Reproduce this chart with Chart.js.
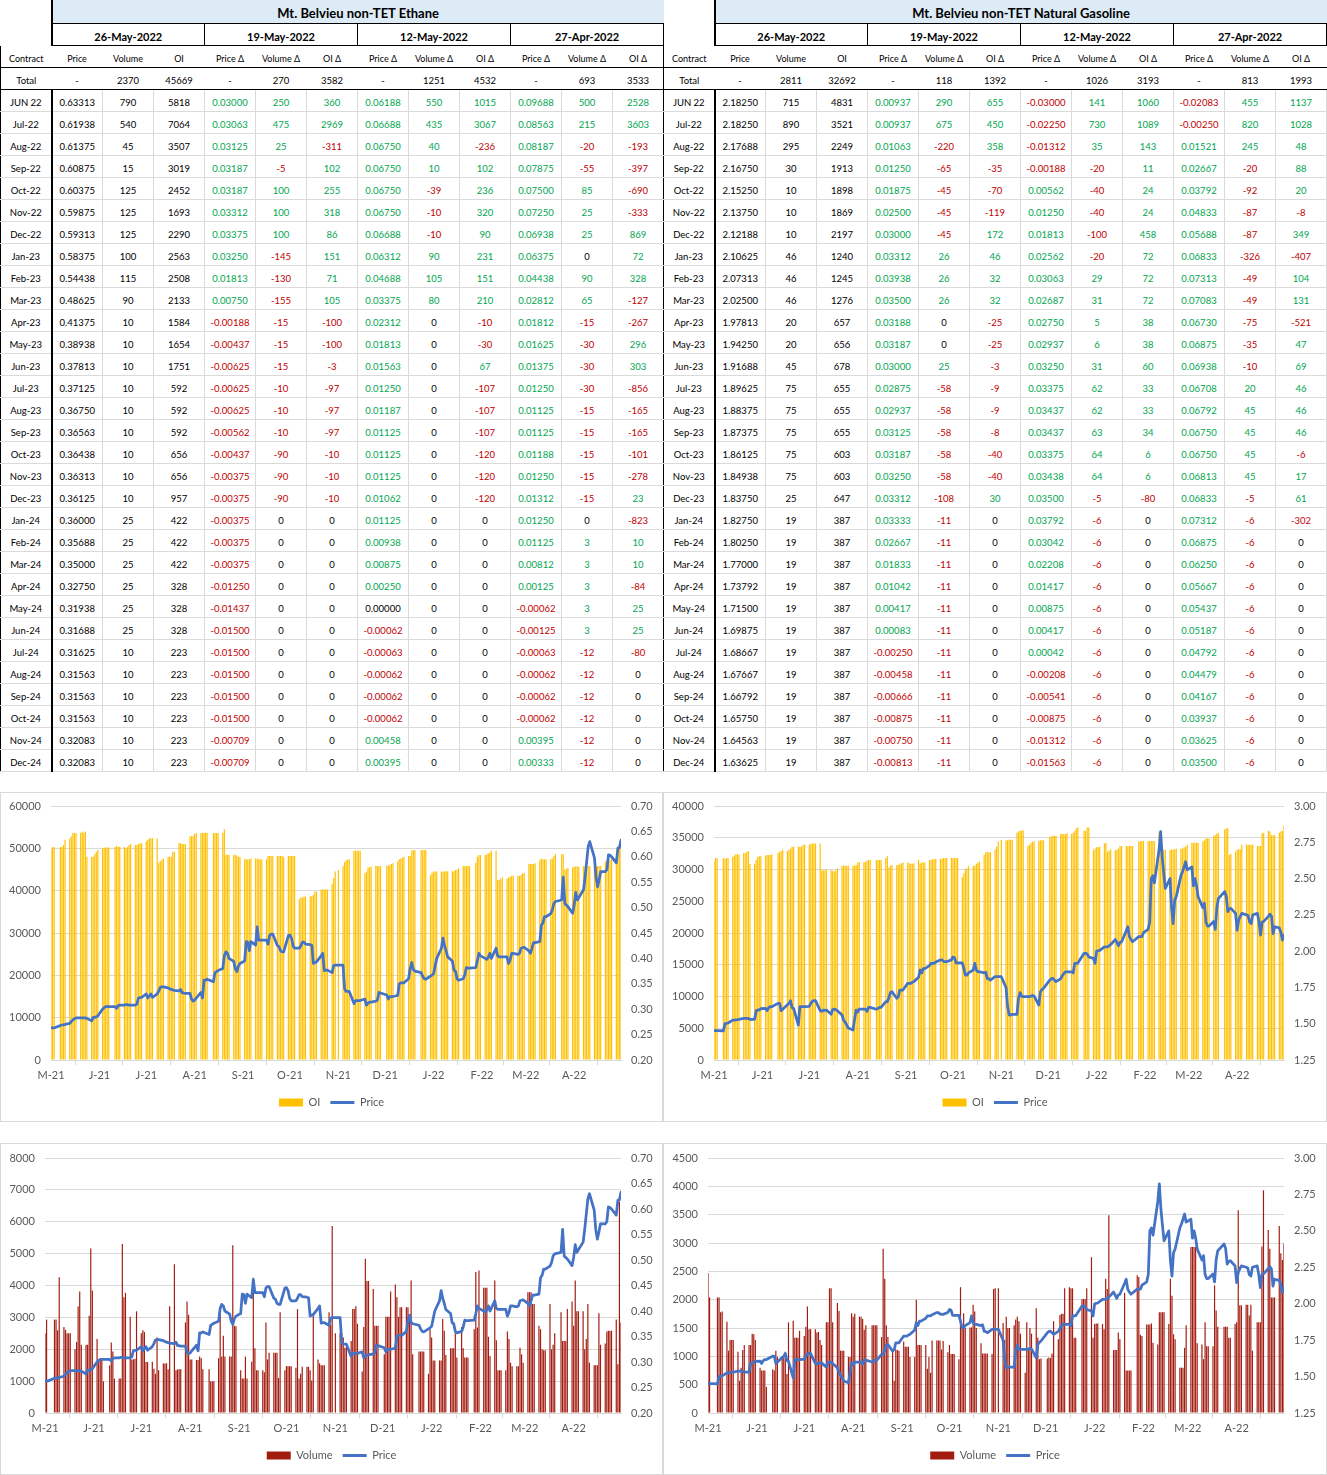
<!DOCTYPE html>
<html>
<head>
<meta charset="utf-8">
<script src="https://cdn.jsdelivr.net/npm/chart.js@4.4.1/dist/chart.umd.min.js"></script>
<style>
  body { margin: 0; background: #fff; font-family: Lato, "Noto Sans", sans-serif; }
  table.t { position: absolute; top: 0; border-collapse: collapse; table-layout: fixed; font-size: 9.5px; color: #000; }
  table.t td { height: 19px; line-height: 12px; padding: 0 0 2px 0; text-align: center; vertical-align: bottom; white-space: nowrap; overflow: hidden;
               border-right: 1px solid #dadada; border-bottom: 1px solid #dadada; }
  table.t tr.top td { height: 21px; }
  table.t td.blank { border: none; border-right: 2px solid #000; }
  table.t td.title { background: #ddebf7; font-weight: bold; font-size: 13px; line-height: 15px; border-bottom: 1px solid #000; border-right: none; }
  table.t td.date { font-weight: bold; font-size: 11px; line-height: 13px; border-bottom: 1px solid #000; border-right: 1px solid #000; }
  table.t tr.head td { font-size: 9px; border-right: none; border-bottom: 1px solid #000; }
  table.t tr.total td { border-right: none; border-bottom: 1px solid #000; }
  table.t td.con { border-right: 2px solid #000; border-left: 1px solid #000; }
  table.t td.pos { color: #00a650; }
  table.t td.neg { color: #c00000; }
  .box { position: absolute; border: 1px solid #d9d9d9; box-sizing: border-box; background: #fff; }
  .inner { position: absolute; left: 0; top: 0; right: 0; bottom: 0; }
</style>
</head>
<body>
<table id="t1" class="t" style="left:0;width:663px"></table>
<table id="t2" class="t" style="left:663px;width:664px"></table>

<div class="box" style="left:0;top:792px;width:663px;height:330px"><div class="inner"><canvas id="c1"></canvas></div></div>
<div class="box" style="left:663px;top:792px;width:664px;height:330px"><div class="inner"><canvas id="c2"></canvas></div></div>
<div class="box" style="left:0;top:1143px;width:663px;height:332px"><div class="inner"><canvas id="c3"></canvas></div></div>
<div class="box" style="left:663px;top:1143px;width:664px;height:332px"><div class="inner"><canvas id="c4"></canvas></div></div>

<script>
// ---------- table data ----------
const periods = ['26-May-2022', '19-May-2022', '12-May-2022', '27-Apr-2022'];
const subHeads = ['Price', 'Volume', 'OI', 'Price Δ', 'Volume Δ', 'OI Δ', 'Price Δ', 'Volume Δ', 'OI Δ', 'Price Δ', 'Volume Δ', 'OI Δ'];
const contracts = ['JUN 22', 'Jul-22', 'Aug-22', 'Sep-22', 'Oct-22', 'Nov-22', 'Dec-22', 'Jan-23', 'Feb-23', 'Mar-23', 'Apr-23',
  'May-23', 'Jun-23', 'Jul-23', 'Aug-23', 'Sep-23', 'Oct-23', 'Nov-23', 'Dec-23', 'Jan-24', 'Feb-24', 'Mar-24', 'Apr-24',
  'May-24', 'Jun-24', 'Jul-24', 'Aug-24', 'Sep-24', 'Oct-24', 'Nov-24', 'Dec-24'];

// Ethane
const ethTotals = ['-', 2370, 45669, '-', 270, 3582, '-', 1251, 4532, '-', 693, 3533];
const ethPrice = [0.63313, 0.61938, 0.61375, 0.60875, 0.60375, 0.59875, 0.59313, 0.58375, 0.54438, 0.48625, 0.41375,
  0.38938, 0.37813, 0.37125, 0.36750, 0.36563, 0.36438, 0.36313, 0.36125, 0.36000, 0.35688, 0.35000, 0.32750,
  0.31938, 0.31688, 0.31625, 0.31563, 0.31563, 0.31563, 0.32083, 0.32083];
const ethVolume = [790, 540, 45, 15, 125, 125, 125, 100, 115, 90, 10, 10, 10, 10, 10, 10, 10, 10, 10, 25, 25, 25, 25, 25, 25,
  10, 10, 10, 10, 10, 10];
const ethOI = [5818, 7064, 3507, 3019, 2452, 1693, 2290, 2563, 2508, 2133, 1584, 1654, 1751, 592, 592, 592, 656, 656, 957,
  422, 422, 422, 328, 328, 328, 223, 223, 223, 223, 223, 223];
const ethPriceD1 = [0.03000, 0.03063, 0.03125, 0.03187, 0.03187, 0.03312, 0.03375, 0.03250, 0.01813, 0.00750, -0.00188,
  -0.00437, -0.00625, -0.00625, -0.00625, -0.00562, -0.00437, -0.00375, -0.00375, -0.00375, -0.00375, -0.00375, -0.01250,
  -0.01437, -0.01500, -0.01500, -0.01500, -0.01500, -0.01500, -0.00709, -0.00709];
const ethVolD1 = [250, 475, 25, -5, 100, 100, 100, -145, -130, -155, -15, -15, -15, -10, -10, -10, -90, -90, -90,
  0, 0, 0, 0, 0, 0, 0, 0, 0, 0, 0, 0];
const ethOID1 = [360, 2969, -311, 102, 255, 318, 86, 151, 71, 105, -100, -100, -3, -97, -97, -97, -10, -10, -10,
  0, 0, 0, 0, 0, 0, 0, 0, 0, 0, 0, 0];
const ethPriceD2 = [0.06188, 0.06688, 0.06750, 0.06750, 0.06750, 0.06750, 0.06688, 0.06312, 0.04688, 0.03375, 0.02312,
  0.01813, 0.01563, 0.01250, 0.01187, 0.01125, 0.01125, 0.01125, 0.01062, 0.01125, 0.00938, 0.00875, 0.00250,
  0.00000, -0.00062, -0.00063, -0.00062, -0.00062, -0.00062, 0.00458, 0.00395];
const ethVolD2 = [550, 435, 40, 10, -39, -10, -10, 90, 105, 80, 0, 0, 0, 0, 0, 0, 0, 0, 0,
  0, 0, 0, 0, 0, 0, 0, 0, 0, 0, 0, 0];
const ethOID2 = [1015, 3067, -236, 102, 236, 320, 90, 231, 151, 210, -10, -30, 67, -107, -107, -107, -120, -120, -120,
  0, 0, 0, 0, 0, 0, 0, 0, 0, 0, 0, 0];
const ethPriceD3 = [0.09688, 0.08563, 0.08187, 0.07875, 0.07500, 0.07250, 0.06938, 0.06375, 0.04438, 0.02812, 0.01812,
  0.01625, 0.01375, 0.01250, 0.01125, 0.01125, 0.01188, 0.01250, 0.01312, 0.01250, 0.01125, 0.00812, 0.00125,
  -0.00062, -0.00125, -0.00063, -0.00062, -0.00062, -0.00062, 0.00395, 0.00333];
const ethVolD3 = [500, 215, -20, -55, 85, 25, 25, 0, 90, 65, -15, -30, -30, -30, -15, -15, -15, -15, -15,
  0, 3, 3, 3, 3, 3, -12, -12, -12, -12, -12, -12];
const ethOID3 = [2528, 3603, -193, -397, -690, -333, 869, 72, 328, -127, -267, 296, 303, -856, -165, -165, -101, -278, 23,
  -823, 10, 10, -84, 25, 25, -80, 0, 0, 0, 0, 0];

// Natural Gasoline
const ngTotals = ['-', 2811, 32692, '-', 118, 1392, '-', 1026, 3193, '-', 813, 1993];
const ngPrice = [2.18250, 2.18250, 2.17688, 2.16750, 2.15250, 2.13750, 2.12188, 2.10625, 2.07313, 2.02500, 1.97813,
  1.94250, 1.91688, 1.89625, 1.88375, 1.87375, 1.86125, 1.84938, 1.83750, 1.82750, 1.80250, 1.77000, 1.73792,
  1.71500, 1.69875, 1.68667, 1.67667, 1.66792, 1.65750, 1.64563, 1.63625];
const ngVolume = [715, 890, 295, 30, 10, 10, 10, 46, 46, 46, 20, 20, 45, 75, 75, 75, 75, 75, 25,
  19, 19, 19, 19, 19, 19, 19, 19, 19, 19, 19, 19];
const ngOI = [4831, 3521, 2249, 1913, 1898, 1869, 2197, 1240, 1245, 1276, 657, 656, 678, 655, 655, 655, 603, 603, 647,
  387, 387, 387, 387, 387, 387, 387, 387, 387, 387, 387, 387];
const ngPriceD1 = [0.00937, 0.00937, 0.01063, 0.01250, 0.01875, 0.02500, 0.03000, 0.03312, 0.03938, 0.03500, 0.03188,
  0.03187, 0.03000, 0.02875, 0.02937, 0.03125, 0.03187, 0.03250, 0.03312, 0.03333, 0.02667, 0.01833, 0.01042,
  0.00417, 0.00083, -0.00250, -0.00458, -0.00666, -0.00875, -0.00750, -0.00813];
const ngVolD1 = [290, 675, -220, -65, -45, -45, -45, 26, 26, 26, 0, 0, 25, -58, -58, -58, -58, -58, -108,
  -11, -11, -11, -11, -11, -11, -11, -11, -11, -11, -11, -11];
const ngOID1 = [655, 450, 358, -35, -70, -119, 172, 46, 32, 32, -25, -25, -3, -9, -9, -8, -40, -40, 30,
  0, 0, 0, 0, 0, 0, 0, 0, 0, 0, 0, 0];
const ngPriceD2 = [-0.03000, -0.02250, -0.01312, -0.00188, 0.00562, 0.01250, 0.01813, 0.02562, 0.03063, 0.02687, 0.02750,
  0.02937, 0.03250, 0.03375, 0.03437, 0.03437, 0.03375, 0.03438, 0.03500, 0.03792, 0.03042, 0.02208, 0.01417,
  0.00875, 0.00417, 0.00042, -0.00208, -0.00541, -0.00875, -0.01312, -0.01563];
const ngVolD2 = [141, 730, 35, -20, -40, -40, -100, -20, 29, 31, 5, 6, 31, 62, 62, 63, 64, 64, -5,
  -6, -6, -6, -6, -6, -6, -6, -6, -6, -6, -6, -6];
const ngOID2 = [1060, 1089, 143, 11, 24, 24, 458, 72, 72, 72, 38, 38, 60, 33, 33, 34, 6, 6, -80,
  0, 0, 0, 0, 0, 0, 0, 0, 0, 0, 0, 0];
const ngPriceD3 = [-0.02083, -0.00250, 0.01521, 0.02667, 0.03792, 0.04833, 0.05688, 0.06833, 0.07313, 0.07083, 0.06730,
  0.06875, 0.06938, 0.06708, 0.06792, 0.06750, 0.06750, 0.06813, 0.06833, 0.07312, 0.06875, 0.06250, 0.05667,
  0.05437, 0.05187, 0.04792, 0.04479, 0.04167, 0.03937, 0.03625, 0.03500];
const ngVolD3 = [455, 820, 245, -20, -92, -87, -87, -326, -49, -49, -75, -35, -10, 20, 45, 45, 45, 45, -5,
  -6, -6, -6, -6, -6, -6, -6, -6, -6, -6, -6, -6];
const ngOID3 = [1137, 1028, 48, 88, 20, -8, 349, -407, 104, 131, -521, 47, 69, 46, 46, 46, -6, 17, 61,
  -302, 0, 0, 0, 0, 0, 0, 0, 0, 0, 0, 0];

// ---------- chart data (one line per trading week) ----------
const startDate = '2021-05-26';
const endDate = '2022-05-26';
const holidays = ['2021-05-31', '2021-07-05', '2021-09-06', '2021-11-25', '2021-12-24', '2022-01-17', '2022-02-21', '2022-04-15'];
const tickDates = ['2021-05-26', '2021-06-26', '2021-07-26', '2021-08-26', '2021-09-26', '2021-10-26', '2021-11-26',
  '2021-12-26', '2022-01-26', '2022-02-26', '2022-03-26', '2022-04-26', '2022-05-26'];
const tickLabels = ['M-21', 'J-21', 'J-21', 'A-21', 'S-21', 'O-21', 'N-21', 'D-21', 'J-22', 'F-22', 'M-22', 'A-22', ''];

const ethOIHist = [
  49800, 50300, 50300,
  50300, 50300, 50800, 52000,
  52300, 52800, 53600, 53600, 53600,
  53700, 53900, 53600, 54000, 48000,
  48000, 48000, 48600, 49200, 49600,
  50000, 50200, 50200, 50200, 50200,
  50300, 50600, 50400, 50300,
  50400, 50000, 50300, 50800, 51000,
  50800, 50800, 51000, 51200, 51200,
  51600, 52000, 52400, 52400, 52400,
  52400, 46600, 46900, 47300, 47600,
  48000, 48000, 48000, 49200, 49200,
  51300, 51200, 51000, 51000, 51000,
  52800, 52900, 52900, 53400, 53600,
  53600, 53600, 53700, 53700, 53700,
  53600, 53600, 53600, 53600,
  53700, 54500, 48500, 48500, 48500,
  48500, 48500, 48300, 48000, 48000,
  47400, 47400, 47400, 47400, 47600,
  47600, 47600, 47400, 47400, 47400,
  47400, 48200, 48200, 48200, 48200,
  48200, 48200, 48200, 48200, 47900,
  48200, 48200, 48200, 48200, 48200,
  38000, 38400, 38400, 38600, 38600,
  38700, 38700, 39000, 39800, 39800,
  40300, 40300, 40300, 40300, 40300,
  41600, 43000, 44500, 44800,
  45800, 46800, 47200, 47300, 47400,
  49400, 49400, 49400, 49400, 49400,
  44100, 44500, 45500, 45500, 45700,
  45800, 45800, 45800, 45800,
  45800, 46000, 46000, 46300, 46500,
  46900, 47400, 47600, 47800, 48000,
  48200, 48200, 49400, 49600, 49600,
  49600, 49600, 49600, 49600,
  43700, 44200, 44500, 44500, 44500,
  44500, 44500, 44500, 44600, 44600,
  44600, 44600, 44900, 45000, 45300,
  45800, 45800, 45800, 45800, 45800,
  46600, 48000, 48400, 48400,
  48400, 48600, 48800, 49000, 49400,
  49400, 42500, 42500, 42900, 43100,
  42900, 43100, 43300, 43500, 43500,
  43500, 43500, 43700, 44100, 44100,
  46300, 46300, 46300, 46300, 46500,
  47200, 47600, 47400, 47400, 47400,
  47400, 47600, 48200, 48600,
  48600, 48600, 45000, 45200, 45400,
  45500, 45700, 45700, 45700, 45700,
  45800, 45800, 45800, 45800, 45800,
  45800, 45800, 45800, 45800, 45800,
  46900, 47200, 47200, 47200, 47600,
  47600, 50400, 50400, 51200
];

const ethPriceHist = [
  0.263, 0.263, 0.263,
  0.268, 0.269, 0.269, 0.270,
  0.272, 0.276, 0.279, 0.281, 0.283,
  0.283, 0.283, 0.283, 0.283, 0.282,
  0.277, 0.284, 0.284, 0.285, 0.287,
  0.300, 0.303, 0.305, 0.305, 0.305,
  0.305, 0.302, 0.307, 0.308,
  0.308, 0.309, 0.309, 0.308, 0.308,
  0.308, 0.310, 0.322, 0.323, 0.323,
  0.330, 0.322, 0.326, 0.330, 0.323,
  0.330, 0.336, 0.343, 0.344, 0.344,
  0.342, 0.340, 0.339, 0.338, 0.337,
  0.336, 0.339, 0.332, 0.332, 0.331,
  0.331, 0.320, 0.316, 0.318, 0.322,
  0.333, 0.322, 0.357, 0.357, 0.359,
  0.354, 0.372, 0.374, 0.376,
  0.380, 0.405, 0.413, 0.410, 0.400,
  0.394, 0.380, 0.374, 0.385, 0.390,
  0.395, 0.433, 0.432, 0.415, 0.433,
  0.426, 0.462, 0.436, 0.436, 0.436,
  0.436, 0.428, 0.445, 0.448, 0.448,
  0.425, 0.423, 0.415, 0.413, 0.413,
  0.445, 0.446, 0.440, 0.425, 0.420,
  0.420, 0.425, 0.432, 0.432, 0.428,
  0.427, 0.426, 0.390, 0.392, 0.393,
  0.405, 0.410, 0.376, 0.377, 0.377,
  0.372, 0.386, 0.387, 0.387,
  0.387, 0.340, 0.335, 0.335, 0.335,
  0.311, 0.317, 0.317, 0.317, 0.317,
  0.320, 0.308, 0.312, 0.314, 0.314,
  0.316, 0.318, 0.333, 0.332,
  0.328, 0.320, 0.325, 0.325, 0.325,
  0.327, 0.350, 0.352, 0.352, 0.352,
  0.360, 0.380, 0.392, 0.378, 0.375,
  0.372, 0.365, 0.360, 0.359,
  0.365, 0.367, 0.370, 0.385, 0.400,
  0.420, 0.440, 0.425, 0.415, 0.403,
  0.395, 0.377, 0.375, 0.360, 0.357,
  0.360, 0.368, 0.382, 0.381, 0.381,
  0.382, 0.395, 0.410, 0.405,
  0.400, 0.398, 0.402, 0.410, 0.400,
  0.420, 0.405, 0.403, 0.403, 0.403,
  0.403, 0.390, 0.397, 0.410, 0.410,
  0.408, 0.410, 0.420, 0.421, 0.422,
  0.415, 0.410, 0.420, 0.431, 0.431,
  0.433, 0.465, 0.470, 0.482, 0.482,
  0.488, 0.495, 0.508, 0.512,
  0.515, 0.560, 0.508, 0.505, 0.502,
  0.489, 0.505, 0.530, 0.515, 0.520,
  0.535, 0.560, 0.590, 0.620, 0.630,
  0.598, 0.560, 0.541, 0.555, 0.571,
  0.571, 0.575, 0.604, 0.603, 0.600,
  0.588, 0.617, 0.618, 0.633
];

const ethVolHist = [
  2500, 2930, 0,
  2930, 2930, 2600, 4260,
  2700, 2610, 2500, 2500, 2500,
  2000, 2230, 3340, 3810, 2140,
  2140, 2140, 3050, 5160, 3840,
  2320, 1680, 1680, 1680, 1000,
  1500, 2210, 1930, 1080,
  1080, 1080, 5300, 3630, 3770,
  3020, 1680, 1690, 1700, 3190,
  2500, 2600, 2540, 1600, 1600,
  1610, 1390, 1230, 2370, 1340,
  1550, 1550, 1560, 1370, 3350,
  4670, 1340, 1370, 1370, 1370,
  2840, 3500, 3080, 1680, 1680,
  1660, 1660, 1770, 1720, 1370,
  1370, 1000, 1000, 1000,
  1720, 3320, 1770, 2420, 1770,
  1770, 1770, 5260, 2740, 2720,
  1340, 1080, 1080, 1770, 1080,
  1610, 4240, 2030, 1340, 1340,
  1340, 1280, 2840, 1680, 1890,
  1890, 1890, 1890, 1100, 3160,
  1340, 1470, 1470, 1470, 1470,
  1420, 3260, 1080, 1230, 1450,
  1450, 1450, 1340, 1020, 3130,
  1680, 1560, 1500, 1500, 1500,
  3160, 2770, 5870, 2500,
  2500, 2500, 2370, 2050, 2080,
  2260, 3260, 3260, 3350, 2800,
  1300, 2700, 4840, 4140, 4140,
  3890, 2740, 2740, 2740,
  1840, 3020, 3020, 3020, 3810,
  4030, 3630, 3020, 3320, 3320,
  3320, 3320, 3100, 4160, 1840,
  1930, 1930, 1930, 1930,
  1230, 2630, 2370, 1650, 1650,
  1650, 1650, 2950, 2580, 1820,
  2030, 2030, 2030, 2500, 1740,
  2700, 2030, 1740, 1740, 1740,
  2630, 4420, 2680, 4470,
  3930, 3930, 3930, 2390, 1790,
  4160, 2280, 1340, 1340, 1340,
  1340, 2560, 2320, 1580, 1470,
  1470, 1470, 2050, 1840, 1580,
  3790, 3790, 3790, 3420, 3420,
  2740, 2630, 2000, 1970, 1970,
  3420, 2000, 2140, 2500,
  3160, 2260, 2260, 2260, 3260,
  3500, 2740, 4160, 3190, 3190,
  3190, 2000, 2320, 3420, 1580,
  1500, 1500, 1500, 3130, 2140,
  2180, 2560, 2580, 2580, 2580,
  2930, 1530, 6630, 2840
];

const ngOIHist = [
  31300, 31800, 31800,
  31800, 31700, 31800, 31800,
  32000, 32200, 32400, 32400, 32400,
  32600, 32600, 32800, 32900, 30900,
  30900, 31500, 32000, 32100, 32100,
  32200, 32300, 32300, 32300, 32400,
  32600, 32800, 32900, 33100,
  32900, 33100, 33300, 33600, 33600,
  33600, 33600, 33600, 33900, 33900,
  33900, 34000, 34100, 34100, 34100,
  34100, 29900, 29900, 29900, 30000,
  29900, 29800, 29700, 29900, 30200,
  30600, 30600, 30600, 30600, 30600,
  30600, 30600, 30700, 31100, 31200,
  31200, 31200, 31400, 31500, 31500,
  31500, 31500, 31500, 31500,
  31800, 32100, 30300, 30600, 30700,
  30700, 30700, 30900, 31000, 31100,
  31100, 31000, 30900, 30900, 31000,
  31500, 31000, 31100, 31100, 31100,
  31500, 31500, 31600, 31600, 31650,
  31700, 31700, 31800, 31800, 31800,
  31800, 31800, 31800, 31800, 31800,
  28800, 29400, 30000, 30200, 30500,
  30600, 30600, 30900, 31100, 31200,
  32300, 32700, 32700, 32700, 32700,
  33100, 33600, 34400, 34700,
  34600, 34600, 34700, 34700, 34700,
  35800, 36000, 36100, 36100, 36200,
  33700, 33900, 34200, 34400, 34400,
  34500, 34600, 34600, 34600,
  35100, 35200, 35300, 35300, 35300,
  35600, 35600, 35600, 35600, 35700,
  35600, 35800, 36100, 36500, 36600,
  36100, 36100, 36600, 36600,
  33100, 33300, 33500, 33500, 33600,
  34100, 34200, 32800, 33000, 33200,
  33000, 33100, 33300, 33700, 33700,
  33700, 33700, 33700, 33700, 33700,
  34400, 34400, 34500, 34500,
  34500, 34500, 34500, 34500, 34500,
  36000, 35800, 32300, 33100, 33100,
  33100, 33100, 33200, 33200, 33300,
  33300, 33300, 33500, 33600, 33900,
  34200, 34200, 34200, 34200, 34200,
  34400, 34600, 34900, 34900, 34900,
  35300, 35400, 35700, 35700,
  36300, 36500, 36500, 32300, 32500,
  32800, 33100, 33200, 33200, 33900,
  33900, 33900, 33900, 33900, 33900,
  33700, 33700, 33700, 35700, 35800,
  36100, 36000, 35400, 35400, 35400,
  35800, 36000, 36100, 37000
];

const ngPriceHist = [
  1.452, 1.452, 1.452,
  1.450, 1.500, 1.502, 1.505,
  1.525, 1.525, 1.527, 1.528, 1.530,
  1.537, 1.537, 1.537, 1.537, 1.530,
  1.530, 1.590, 1.594, 1.595, 1.604,
  1.606, 1.590, 1.610, 1.617, 1.617,
  1.640, 1.640, 1.590, 1.600,
  1.630, 1.640, 1.659, 1.610, 1.605,
  1.491, 1.617, 1.617, 1.617, 1.617,
  1.620, 1.640, 1.655, 1.659, 1.659,
  1.590, 1.585, 1.594, 1.592, 1.594,
  1.565, 1.598, 1.600, 1.598, 1.590,
  1.560, 1.525, 1.510, 1.491, 1.470,
  1.457, 1.530, 1.594, 1.580, 1.600,
  1.600, 1.600, 1.585, 1.613, 1.613,
  1.600, 1.605, 1.613, 1.613,
  1.652, 1.652, 1.680, 1.715, 1.720,
  1.675, 1.685, 1.732, 1.732, 1.732,
  1.778, 1.778, 1.778, 1.785, 1.790,
  1.820, 1.870, 1.850, 1.880, 1.880,
  1.900, 1.916, 1.916, 1.916, 1.925,
  1.939, 1.939, 1.930, 1.927, 1.927,
  1.940, 1.960, 1.955, 1.920, 1.920,
  1.920, 1.880, 1.835, 1.835, 1.850,
  1.870, 1.916, 1.870, 1.858, 1.858,
  1.850, 1.855, 1.810, 1.810, 1.800,
  1.824, 1.824, 1.824, 1.824,
  1.750, 1.620, 1.560, 1.560, 1.565,
  1.565, 1.675, 1.714, 1.690, 1.686,
  1.686, 1.686, 1.690, 1.695, 1.690,
  1.629, 1.720, 1.735, 1.744,
  1.800, 1.810, 1.812, 1.800, 1.790,
  1.810, 1.830, 1.845, 1.858, 1.858,
  1.858, 1.850, 1.916, 1.916, 1.918,
  1.985, 1.985, 1.980, 1.960,
  1.950, 1.916, 2.000, 2.003, 2.005,
  2.030, 2.030, 2.030, 2.035, 2.045,
  2.080, 2.060, 2.037, 2.060, 2.065,
  2.140, 2.168, 2.100, 2.080, 2.065,
  2.100, 2.100, 2.100, 2.127,
  2.150, 2.200, 2.500, 2.520, 2.470,
  2.700, 2.823, 2.650, 2.536, 2.432,
  2.500, 2.300, 2.190, 2.350, 2.375,
  2.520, 2.547, 2.580, 2.616, 2.560,
  2.580, 2.450, 2.500, 2.450, 2.375,
  2.300, 2.330, 2.200, 2.173, 2.173,
  2.204, 2.150, 2.300, 2.363,
  2.410, 2.380, 2.272, 2.290, 2.295,
  2.260, 2.145, 2.214, 2.240, 2.260,
  2.250, 2.245, 2.200, 2.190, 2.250,
  2.260, 2.200, 2.110, 2.200, 2.205,
  2.240, 2.255, 2.240, 2.120, 2.168,
  2.160, 2.130, 2.076, 2.110
];

const ngVolHist = [
  2470, 2040, 0,
  2040, 2040, 1780, 1790,
  1610, 1100, 1290, 1290, 1290,
  1080, 570, 800, 1110, 1200,
  1200, 1200, 1400, 1390, 1290,
  800, 750, 750, 750, 460,
  770, 750, 1100, 990,
  990, 970, 1080, 690, 1600,
  1630, 1330, 1330, 1330, 1450,
  1360, 1520, 1880, 1480, 1480,
  1480, 1420, 1430, 1290, 1200,
  1600, 1600, 2200, 2200, 1600,
  1940, 1800, 1100, 1100, 1100,
  990, 990, 1760, 1700, 1750,
  1700, 1700, 1660, 1470, 1550,
  1550, 1550, 1550, 1550,
  1340, 2900, 2370, 1550, 1340,
  1100, 570, 1120, 1110, 1100,
  1260, 1170, 1170, 1170, 990,
  990, 2000, 1200, 1200, 1200,
  1200, 780, 990, 710, 1280,
  1280, 1280, 1280, 1120, 1270,
  1070, 1200, 1040, 1040, 1040,
  950, 2220, 1510, 1760, 1500,
  1510, 1510, 1910, 1790, 1500,
  1230, 1050, 1050, 1050, 1050,
  1040, 2190, 2200, 2200,
  1590, 1290, 1700, 1500, 1500,
  1550, 1650, 1700, 1620, 1400,
  710, 1600, 1110, 1500, 1400,
  1850, 1330, 950, 960,
  960, 980, 970, 1050, 1620,
  1300, 1730, 1750, 1750, 2200,
  2220, 2200, 2200, 1330, 1330,
  2010, 2010, 2010, 2200,
  2750, 1330, 1570, 1580, 1580,
  1570, 1480, 2370, 2190, 3490,
  1110, 1110, 1110, 1420, 1300,
  2120, 750, 750, 750, 750,
  2430, 2400, 1380, 1360,
  1560, 1560, 1560, 1580, 1240,
  1210, 1780, 1780, 1780, 1780,
  1570, 2370, 2070, 1390, 1300,
  800, 800, 800, 1150, 1550,
  2930, 2930, 2930, 2930, 1230,
  1210, 950, 1600, 1180, 1180,
  1180, 2250, 1810, 1520,
  1520, 1520, 1520, 1330, 1330,
  1570, 1600, 3580, 1900, 1900,
  1910, 1910, 1720, 1910, 1100,
  1600, 1600, 1600, 2940, 3930,
  3230, 2900, 2040, 2040, 2040,
  3300, 2820, 2700, 2990
];

// ---------- tables ----------
function buildTable(id, title, totals, cols) {
  const t = document.getElementById(id);
  let html = '<colgroup>' + '<col style="width:51px">'.repeat(13) + '</colgroup>';
  html += '<tr class="top"><td class="blank"></td><td class="title" colspan="12">' + title + '</td></tr>';
  html += '<tr><td class="blank"></td>' + periods.map(p => '<td class="date" colspan="3">' + p + '</td>').join('') + '</tr>';
  html += '<tr class="head"><td class="con">Contract</td>' + subHeads.map(h => '<td>' + h + '</td>').join('') + '</tr>';
  html += '<tr class="total"><td class="con">Total</td>' + totals.map(v => '<td>' + v + '</td>').join('') + '</tr>';
  contracts.forEach((c, r) => {
    html += '<tr><td class="con">' + c + '</td>';
    cols.forEach((col, k) => {
      const v = col[r];
      const isPrice = k % 3 === 0;
      const txt = isPrice ? v.toFixed(5) : String(v);
      const cls = k < 3 ? '' : (v > 0 ? 'pos' : (v < 0 ? 'neg' : ''));
      html += '<td class="' + cls + '">' + txt + '</td>';
    });
    html += '</tr>';
  });
  t.innerHTML = html;
}

buildTable('t1', 'Mt. Belvieu non-TET Ethane', ethTotals,
  [ethPrice, ethVolume, ethOI, ethPriceD1, ethVolD1, ethOID1, ethPriceD2, ethVolD2, ethOID2, ethPriceD3, ethVolD3, ethOID3]);
buildTable('t2', 'Mt. Belvieu non-TET Natural Gasoline', ngTotals,
  [ngPrice, ngVolume, ngOI, ngPriceD1, ngVolD1, ngOID1, ngPriceD2, ngVolD2, ngOID2, ngPriceD3, ngVolD3, ngOID3]);

// ---------- charts ----------
const DAY = 86400000;
const t0 = Date.parse(startDate + 'T00:00:00Z');
const tEnd = Date.parse(endDate + 'T00:00:00Z');
const tradeDays = [];
for (let t = t0; t <= tEnd; t += DAY) {
  const d = new Date(t);
  const wd = d.getUTCDay();
  if (wd === 0 || wd === 6 || holidays.includes(d.toISOString().slice(0, 10))) continue;
  tradeDays.push((t - t0) / DAY);
}
const tickDays = tickDates.map(s => (Date.parse(s + 'T00:00:00Z') - t0) / DAY);
const pts = vals => vals.map((v, i) => ({ x: tradeDays[i], y: v }));

Chart.defaults.font.family = 'Lato, "Noto Sans", sans-serif';
Chart.defaults.font.size = 11;
Chart.defaults.color = '#595959';

function makeChart(id, cfg) {
  return new Chart(document.getElementById(id), {
    data: {
      datasets: [
        {
          type: 'bar', label: cfg.barLabel, data: pts(cfg.bars), backgroundColor: cfg.barColor,
          yAxisID: 'y', order: 2, barPercentage: 0.75, categoryPercentage: 1
        },
        {
          type: 'line', label: 'Price', data: pts(cfg.price), borderColor: '#4472c4', borderWidth: 2.75,
          pointRadius: 0, tension: 0, yAxisID: 'y1', order: 1, borderJoinStyle: 'round', borderCapStyle: 'round'
        }
      ]
    },
    options: {
      responsive: true,
      maintainAspectRatio: false,
      animation: false,
      layout: { padding: { top: cfg.top, bottom: 3, left: 0, right: 0 } },
      plugins: {
        tooltip: { enabled: false },
        legend: {
          position: 'bottom',
          labels: {
            usePointStyle: true, pointStyleWidth: 24, boxHeight: 8, padding: 10, color: '#595959',
            font: { size: 11 },
            generateLabels: chart => chart.data.datasets.map((ds, i) => ({
              text: ds.label,
              fillStyle: ds.type === 'bar' ? ds.backgroundColor : ds.borderColor,
              strokeStyle: ds.type === 'bar' ? ds.backgroundColor : ds.borderColor,
              lineWidth: ds.type === 'bar' ? 0 : 3,
              pointStyle: ds.type === 'bar' ? 'rect' : 'line',
              fontColor: '#595959',
              hidden: false,
              datasetIndex: i
            }))
          }
        }
      },
      scales: {
        x: {
          type: 'linear', min: 0, max: tickDays[tickDays.length - 1], offset: false,
          afterBuildTicks: s => { s.ticks = tickDays.map(v => ({ value: v })); },
          afterFit: s => { s.height = 27; },
          ticks: { autoSkip: false, maxRotation: 0, padding: 4, callback: (v, i) => tickLabels[i] || '' },
          grid: { drawOnChartArea: false, drawTicks: true, tickLength: 5, color: '#d9d9d9' },
          border: { display: true, color: '#d9d9d9' }
        },
        y: {
          position: 'left', min: 0, max: cfg.yMax,
          ticks: { stepSize: cfg.yStep, padding: 10, callback: v => String(v) },
          grid: { color: '#d9d9d9', drawTicks: false },
          border: { display: false },
          afterFit: s => { s.width = cfg.left; s.paddingTop = 6; s.paddingBottom = 6; }
        },
        y1: {
          position: 'right', min: cfg.pMin, max: cfg.pMax,
          ticks: { stepSize: cfg.pStep, padding: 10, callback: v => Number(v).toFixed(2) },
          grid: { drawOnChartArea: false, drawTicks: false },
          border: { display: false },
          afterFit: s => { s.width = cfg.right; s.paddingTop = 6; s.paddingBottom = 6; }
        }
      }
    }
  });
}

makeChart('c1', { barLabel: 'OI', bars: ethOIHist, price: ethPriceHist, barColor: '#ffc000',
  yMax: 60000, yStep: 10000, pMin: 0.2, pMax: 0.7, pStep: 0.05, left: 50, right: 41, top: 13 });
makeChart('c2', { barLabel: 'OI', bars: ngOIHist, price: ngPriceHist, barColor: '#ffc000',
  yMax: 40000, yStep: 5000, pMin: 1.25, pMax: 3.0, pStep: 0.25, left: 50, right: 42, top: 13 });
makeChart('c3', { barLabel: 'Volume', bars: ethVolHist, price: ethPriceHist, barColor: '#a31c10',
  yMax: 8000, yStep: 1000, pMin: 0.2, pMax: 0.7, pStep: 0.05, left: 44, right: 41, top: 14 });
makeChart('c4', { barLabel: 'Volume', bars: ngVolHist, price: ngPriceHist, barColor: '#a31c10',
  yMax: 4500, yStep: 500, pMin: 1.25, pMax: 3.0, pStep: 0.25, left: 44, right: 42, top: 14 });
</script>
</body>
</html>
